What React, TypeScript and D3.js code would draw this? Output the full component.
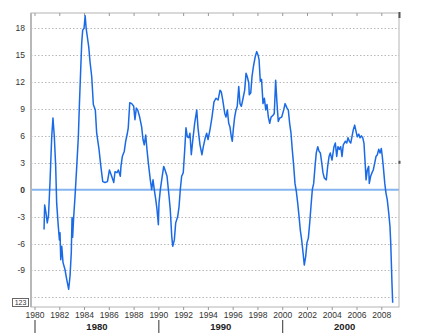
import React from "react";
import * as d3 from "d3";

// decimal year of each reading
const years = [
  1980.73, 1980.78, 1980.89, 1980.99, 1981.09, 1981.21, 1981.35, 1981.45, 1981.56, 1981.67,
  1981.75, 1981.86, 1981.97, 1982.02, 1982.08, 1982.16, 1982.26, 1982.42, 1982.56, 1982.72,
  1982.83, 1982.93, 1982.99, 1983.04, 1983.12, 1983.23, 1983.37, 1983.5, 1983.58, 1983.69,
  1983.77, 1983.85, 1983.96, 1984.05, 1984.13, 1984.23, 1984.34, 1984.44, 1984.58, 1984.71,
  1984.87, 1984.98, 1985.17, 1985.3, 1985.47, 1985.65, 1985.85, 1986.01, 1986.19, 1986.36,
  1986.46, 1986.62, 1986.73, 1986.89, 1986.94, 1987.05, 1987.21, 1987.32, 1987.43, 1987.53,
  1987.65, 1987.81, 1987.97, 1988.07, 1988.18, 1988.29, 1988.45, 1988.61, 1988.72, 1988.82,
  1988.94, 1989.04, 1989.15, 1989.31, 1989.42, 1989.53, 1989.63, 1989.75, 1989.85, 1989.96,
  1990.01, 1990.12, 1990.23, 1990.39, 1990.5, 1990.66, 1990.82, 1990.92, 1991.04, 1991.12,
  1991.25, 1991.36, 1991.52, 1991.63, 1991.73, 1991.84, 1991.97, 1992.09, 1992.19, 1992.3,
  1992.41, 1992.51, 1992.62, 1992.73, 1992.89, 1993.06, 1993.16, 1993.32, 1993.48, 1993.59,
  1993.75, 1993.86, 1993.97, 1994.13, 1994.29, 1994.45, 1994.61, 1994.78, 1994.94, 1995.04,
  1995.16, 1995.32, 1995.42, 1995.53, 1995.64, 1995.74, 1995.85, 1995.93, 1996.01, 1996.12,
  1996.23, 1996.33, 1996.45, 1996.55, 1996.66, 1996.77, 1996.93, 1997.04, 1997.14, 1997.26,
  1997.3, 1997.42, 1997.52, 1997.63, 1997.79, 1997.9, 1998.01, 1998.09, 1998.19, 1998.29,
  1998.41, 1998.52, 1998.63, 1998.73, 1998.84, 1998.95, 1999.06, 1999.22, 1999.32, 1999.43,
  1999.54, 1999.64, 1999.76, 1999.92, 2000.08, 2000.19, 2000.35, 2000.45, 2000.56, 2000.67,
  2000.77, 2000.89, 2000.99, 2001.1, 2001.21, 2001.32, 2001.42, 2001.53, 2001.64, 2001.74,
  2001.86, 2001.96, 2002.07, 2002.18, 2002.28, 2002.39, 2002.5, 2002.61, 2002.71, 2002.83,
  2002.93, 2003.04, 2003.15, 2003.25, 2003.36, 2003.52, 2003.63, 2003.74, 2003.84, 2003.98,
  2004.14, 2004.25, 2004.36, 2004.46, 2004.57, 2004.68, 2004.79, 2004.89, 2005.05, 2005.17,
  2005.27, 2005.38, 2005.49, 2005.59, 2005.7, 2005.81, 2005.92, 2006.02, 2006.14, 2006.24,
  2006.35, 2006.46, 2006.56, 2006.67, 2006.73, 2006.83, 2006.94, 2006.99, 2007.1, 2007.21,
  2007.31, 2007.43, 2007.53, 2007.64, 2007.75, 2007.86, 2007.96, 2008.04, 2008.12, 2008.24,
  2008.34, 2008.44, 2008.56, 2008.66, 2008.72, 2008.77, 2008.82, 2008.88,
];

const values = [
  -4.45, -1.7, -2.6, -3.7, -2.9, 0.8, 5.9, 8.0, 5.9, 2.6,
  -1.5, -3.7, -5.6, -4.8, -7.8, -6.3, -8.1, -8.9, -10.0, -11.1,
  -9.6, -7.0, -3.1, -5.3, -3.1, -0.8, 2.6, 5.9, 9.3, 13.4,
  16.3, 17.8, 18.0, 19.4, 18.0, 17.0, 15.9, 14.3, 12.6, 9.5,
  8.9, 6.3, 4.5, 2.8, 0.9, 0.8, 0.9, 2.2, 1.5, 0.8,
  2.0, 1.9, 2.2, 1.5, 2.6, 3.7, 4.3, 5.4, 6.1, 6.9,
  9.7, 9.6, 9.3, 7.8, 9.1, 8.9, 8.1, 7.0, 5.6, 5.0,
  6.1, 4.5, 3.0, 1.1, 0.0, 1.1, 0.0, -1.1, -2.2, -3.9,
  -1.5, 0.0, 1.1, 2.6, 2.2, 1.5, -0.7, -2.2, -5.2, -6.3,
  -5.6, -3.7, -3.0, -1.9, 0.0, 1.5, 1.9, 4.5, 6.9, 5.9,
  5.8, 6.3, 3.9, 5.4, 7.4, 8.9, 6.9, 5.0, 3.9, 4.8,
  5.8, 6.3, 5.6, 6.7, 8.1, 9.8, 10.2, 10.0, 11.1, 10.9,
  10.0, 8.5, 8.1, 8.9, 7.4, 7.0, 5.9, 5.4, 6.7, 8.1,
  8.9, 9.3, 11.5, 9.6, 9.3, 10.0, 11.1, 13.0, 12.6, 11.9,
  10.6, 10.8, 12.6, 13.7, 14.9, 15.4, 15.0, 14.5, 12.1, 12.3,
  9.6, 10.2, 8.9, 9.5, 8.1, 7.4, 8.1, 8.3, 8.5, 12.2,
  9.6, 7.6, 8.0, 8.1, 8.9, 9.6, 9.1, 8.9, 7.4, 6.3,
  4.5, 2.6, 0.7, -0.2, -1.5, -3.0, -4.5, -5.6, -7.0, -8.4,
  -7.4, -5.9, -5.4, -3.7, -1.9, 0.0, 0.7, 2.6, 4.1, 4.8,
  4.3, 4.1, 3.0, 1.9, 1.3, 1.1, 2.6, 3.7, 4.1, 3.3,
  4.8, 5.2, 3.7, 4.8, 4.5, 4.8, 3.7, 5.0, 5.4, 5.2,
  5.8, 5.4, 5.2, 5.9, 6.7, 7.2, 6.5, 5.9, 6.2, 5.8,
  6.0, 5.8, 5.2, 2.6, 1.1, 2.2, 2.6, 0.7, 1.5, 1.9,
  2.2, 3.0, 3.7, 3.9, 4.5, 4.1, 4.6, 3.7, 2.6, 0.7,
  -0.4, -1.1, -2.6, -4.1, -5.9, -8.1, -10.4, -12.6,
];

const yTicks = [-9, -6, -3, 0, 3, 6, 9, 12, 15, 18];
const gridValues = [-12, -9, -6, -3, 3, 6, 9, 12, 15, 18];
const yearTicks = [1980, 1982, 1984, 1986, 1988, 1990, 1992, 1994, 1996, 1998, 2000, 2002, 2004, 2006, 2008];
const decades = [1980, 1990, 2000];

const W = 425;
const H = 333;
const plot = { left: 31, top: 13, right: 399, bottom: 307 };

export default function App() {
  const x = d3.scaleLinear().domain([1980, 2008]).range([35, 381.8]);
  const y = d3.scaleLinear().domain([-12, 18]).range([297.3, 28.3]);

  const pts = years.map((yr, i) => [yr, values[i]] as [number, number]);
  const line = d3
    .line<[number, number]>()
    .x((d) => x(d[0]))
    .y((d) => y(d[1]));

  const font = "Arial, 'Liberation Sans', sans-serif";

  return (
    <svg
      width={W}
      height={H}
      style={{ position: "absolute", left: 0, top: 0, background: "#fff" }}
      fontFamily={font}
    >
      {/* grid */}
      {gridValues.map((v) => (
        <line
          key={v}
          x1={plot.left}
          x2={plot.right}
          y1={Math.round(y(v)) + 0.5}
          y2={Math.round(y(v)) + 0.5}
          stroke="#b8b8b8"
          strokeDasharray="1.5,2"
        />
      ))}
      {/* zero line */}
      <line x1={plot.left} x2={plot.right} y1={y(0)} y2={y(0)} stroke="#86b4f0" strokeWidth={2} />

      {/* frame */}
      <rect
        x={plot.left}
        y={plot.top}
        width={plot.right - plot.left}
        height={plot.bottom - plot.top}
        fill="none"
        stroke="#b4b4b4"
        strokeWidth={1}
      />
      <line x1={plot.left} x2={plot.left} y1={plot.top} y2={plot.bottom} stroke="#b8b8b8" strokeWidth={2} />
      <rect x={plot.right - 0.5} y={plot.top - 1} width={2} height={6} fill="#555" />
      <rect x={plot.right - 0.5} y={y(3) - 2} width={2} height={3} fill="#555" />

      {/* top and bottom ticks */}
      {yearTicks.map((t) => (
        <g key={t}>
          <line x1={x(t)} x2={x(t)} y1={plot.top} y2={plot.top + 3} stroke="#999" />
          <line x1={x(t)} x2={x(t)} y1={plot.bottom} y2={plot.bottom + 3} stroke="#999" />
          <text x={x(t)} y={318} fontSize={8.5} textAnchor="middle" fill="#333">
            {t}
          </text>
        </g>
      ))}

      {/* decade markers */}
      {decades.map((d) => (
        <g key={d}>
          <line x1={x(d)} x2={x(d)} y1={320} y2={333} stroke="#333" strokeWidth={1} />
          <text x={x(d + 5)} y={330} fontSize={9.5} fontWeight="bold" textAnchor="middle" fill="#222">
            {d}
          </text>
        </g>
      ))}

      {/* y labels */}
      {yTicks.map((v) => (
        <text
          key={v}
          x={25}
          y={y(v) + 3}
          fontSize={8.5}
          textAnchor="end"
          fill="#333"
          fontWeight={v === 0 ? "bold" : "normal"}
        >
          {v}
        </text>
      ))}

      {/* small value box */}
      <rect x={12.5} y={298.5} width={16} height={8} fill="#fff" stroke="#666" />
      <text x={20.5} y={305} fontSize={7} textAnchor="middle" fill="#333">
        123
      </text>

      {/* series */}
      <path d={line(pts) ?? ""} fill="none" stroke="#1a6ae6" strokeWidth={1.5} strokeLinejoin="round" />
    </svg>
  );
}
